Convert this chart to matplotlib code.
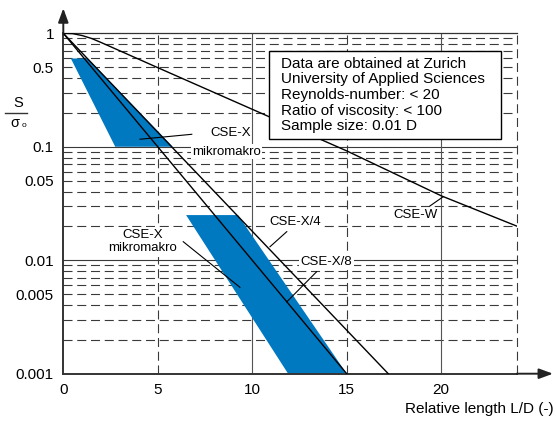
import matplotlib
matplotlib.use("Agg")
import matplotlib.pyplot as plt
from matplotlib.lines import Line2D
from matplotlib.patches import Rectangle
from matplotlib.ticker import NullLocator, FixedLocator, FixedFormatter

plt.rcParams['font.family'] = ['Liberation Sans', 'DejaVu Sans']
plt.rcParams['lines.scale_dashes'] = False

# ---------------- data ----------------
x_ticks = [0, 5, 10, 15, 20]
x_tick_labels = ["0", "5", "10", "15", "20"]
y_ticks = [1, 0.5, 0.1, 0.05, 0.01, 0.005, 0.001]
y_tick_labels = ["1", "0.5", "0.1", "0.05", "0.01", "0.005", "0.001"]

# CSE-W curve
cse_w_x = [0, 0.5, 1, 1.5, 2, 5, 10, 15, 20, 24]
cse_w_y = [1, 0.993, 0.955, 0.90, 0.83, 0.498, 0.214, 0.092, 0.037, 0.020]
# CSE-X/4 line
cse_x4_x = [0, 17.2]
cse_x4_y = [1, 0.001]
# CSE-X/8 line
cse_x8_x = [0, 15]
cse_x8_y = [1, 0.001]
# CSE-X mikromakro bands
band1_x = [0.4, 1.3, 5.8, 2.75]
band1_y = [0.6, 0.6, 0.1, 0.1]
band2_x = [6.5, 9.25, 15.0, 11.9]
band2_y = [0.025, 0.025, 0.001, 0.001]

info_lines = ["Data are obtained at Zurich",
              "University of Applied Sciences",
              "Reynolds-number: < 20",
              "Ratio of viscosity: < 100",
              "Sample size: 0.01 D"]

# ---------------- figure ----------------
W, H = 556, 428
fig = plt.figure(figsize=(W / 100, H / 100), dpi=100)
def fx(px): return px / W
def fy(py): return 1 - py / H

ax_l, ax_r, ax_t, ax_b = 63.3, 516.7, 33.3, 373.7
ax = fig.add_axes([fx(ax_l), fy(ax_b), (ax_r - ax_l) / W, (ax_b - ax_t) / H])
ax.set_yscale('log')
ax.set_xlim(0, 24)
ax.set_ylim(0.001, 1)

grid_c = '#3a3a3a'
dash = (6.5, 3.4)
# horizontal grid
for d in [0.001, 0.01, 0.1]:
    for m in range(2, 10):
        ax.axhline(m * d, color=grid_c, lw=0.8, dashes=dash, zorder=1)
for v in [0.01, 0.1]:
    ax.axhline(v, color=grid_c, lw=0.8, zorder=1)
# vertical grid
for v in [10, 20]:
    ax.axvline(v, color='#555555', lw=0.8, zorder=1)
for v in [5, 15, 24]:
    ax.axvline(v, color=grid_c, lw=0.8, dashes=dash, zorder=1, clip_on=False)

# bands
blue = '#0079C1'
ax.fill(band1_x, band1_y, color=blue, lw=0, zorder=2)
ax.fill(band2_x, band2_y, color=blue, lw=0, zorder=2)

# lines
ax.plot(cse_w_x, cse_w_y, color='black', lw=1.0, zorder=3)
ax.plot(cse_x4_x, cse_x4_y, color='black', lw=1.0, zorder=3)
ax.plot(cse_x8_x, cse_x8_y, color='black', lw=1.0, zorder=3)

# spines
for s in ['right']:
    ax.spines[s].set_visible(False)
ax.spines['top'].set_color('#333333')
ax.spines['top'].set_linewidth(0.9)
ax.spines['left'].set_color('#333333')
ax.spines['left'].set_linewidth(1.4)
ax.spines['bottom'].set_color('#333333')
ax.spines['bottom'].set_linewidth(1.4)

ax.xaxis.set_major_locator(FixedLocator(x_ticks))
ax.xaxis.set_major_formatter(FixedFormatter(x_tick_labels))
ax.yaxis.set_major_locator(FixedLocator(y_ticks))
ax.yaxis.set_major_formatter(FixedFormatter(y_tick_labels))
ax.yaxis.set_minor_locator(NullLocator())
ax.xaxis.set_minor_locator(NullLocator())
ax.tick_params(axis='both', length=0, labelsize=11, colors='black')
ax.tick_params(axis='y', pad=6.7)
ax.tick_params(axis='x', pad=7)

# axis arrows
arr = dict(arrowstyle='-|>,head_length=0.6,head_width=0.22', color='#222222',
           lw=1.4, mutation_scale=14, shrinkA=0, shrinkB=0)
ax.annotate('', xy=((553 - ax_l) / (ax_r - ax_l), 0), xytext=(1, 0),
            xycoords='axes fraction', arrowprops=arr, annotation_clip=False)
ax.annotate('', xy=(0, 1 + (ax_t - 8.3) / (ax_b - ax_t)), xytext=(0, 1),
            xycoords='axes fraction', arrowprops=arr, annotation_clip=False)

# labels with leaders
lab_fs = 9.5
wb = dict(facecolor='white', edgecolor='none', pad=1.0)
leader = dict(color='black', lw=0.8, zorder=4)
ax.text(8.86, 0.1315, "CSE-X", fontsize=lab_fs, ha='center', va='center', zorder=4)
ax.text(8.64, 0.0905, "mikromakro", fontsize=lab_fs, ha='center', va='center',
        zorder=4, bbox=wb)
ax.plot([4.06, 6.80], [0.1165, 0.1288], **leader)

ax.text(4.22, 0.01462, "CSE-X\nmikromakro", fontsize=lab_fs, ha='center',
        va='center', zorder=4, bbox=dict(facecolor='white', edgecolor='none', pad=1.5),
        multialignment='center')
ax.plot([6.35, 9.35], [0.01456, 0.00577], **leader)

ax.text(12.26, 0.02187, "CSE-X/4", fontsize=lab_fs, ha='center', va='center',
        zorder=4, bbox=wb)
ax.plot([11.83, 10.94], [0.01786, 0.01315], **leader)

ax.text(13.94, 0.00959, "CSE-X/8", fontsize=lab_fs, ha='center', va='center',
        zorder=4, bbox=wb)
ax.plot([13.41, 11.83], [0.00792, 0.00430], **leader)

ax.text(18.66, 0.02504, "CSE-W", fontsize=lab_fs, ha='center', va='center',
        zorder=4, bbox=wb)
ax.plot([19.41, 20.11], [0.0301, 0.0363], **leader)

# info box
axw, axh = ax_r - ax_l, ax_b - ax_t
def axx(px): return (px - ax_l) / axw
def axy(py): return 1 - (py - ax_t) / axh
box = Rectangle((axx(269.3), axy(139)), axx(500.7) - axx(269.3), axy(51) - axy(139),
                transform=ax.transAxes, facecolor='white', edgecolor='black',
                lw=1.0, zorder=5, clip_on=False)
ax.add_patch(box)
for i, (t, py) in enumerate(zip(info_lines, [64, 79.5, 95, 110.5, 126])):
    ax.text(axx(280.7), axy(py), t, fontsize=11, ha='left', va='center',
            transform=ax.transAxes, zorder=6)

# y label (fraction S / sigma_o)
fig.text(fx(18.3), fy(102.7), "S", fontsize=10.5, ha='center', va='center')
fig.add_artist(Line2D([fx(5), fx(26.7)], [fy(112.7), fy(112.7)], color='#333333', lw=1.0))
fig.text(fx(15), fy(123.3), "σ", fontsize=10.5, ha='center', va='center')
fig.text(fx(23.5), fy(125.5), "o", fontsize=6, ha='center', va='center')

# x label
fig.text(fx(554), fy(408.5), "Relative length L/D (-)", fontsize=11, ha='right', va='center')

fig.savefig("out.png", dpi=100)
